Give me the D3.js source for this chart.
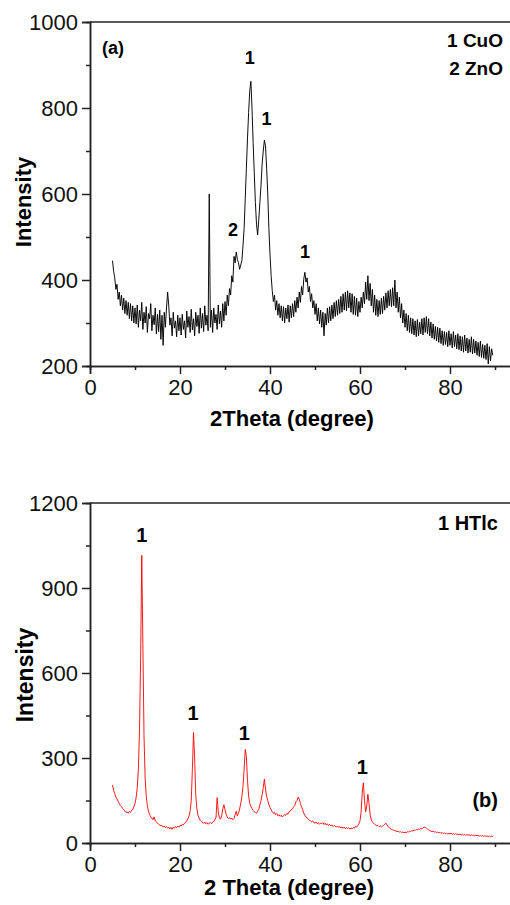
<!DOCTYPE html>
<html>
<head>
<meta charset="utf-8">
<script src="https://cdn.jsdelivr.net/npm/d3@7"></script>
<style>
  body { margin: 0; background: #fff; }
  svg { display: block; font-family: "Liberation Sans", Arial, sans-serif; }
  .axis path, .axis line { stroke: #222; stroke-width: 1.5; }
  .axis text { font-size: 22px; fill: #111; }
</style>
</head>
<body>
<div id="chart"></div>
<script>
// 2theta grid, 0.25 degree steps from 5 to 89.5
var twoTheta = d3.range(5, 89.51, 0.25);

// panel (a) CuO / ZnO
var intensityA = [
  445, 420, 405, 378, 390, 355, 372, 340, 365, 330, 358, 322, 352, 318, 348, 310, 345, 305, 340, 300,
  335, 298, 342, 290, 330, 305, 348, 285, 325, 300, 338, 278, 322, 310, 345, 282, 318, 296, 335, 275,
  320, 280, 330, 262, 318, 248, 325, 290, 335, 372, 340, 295, 312, 270, 325, 288, 305, 268, 318, 282,
  312, 272, 320, 285, 305, 265, 328, 290, 315, 278, 332, 284, 310, 270, 325, 292, 318, 276, 335, 288,
  322, 280, 340, 295, 318, 282, 600, 290, 330, 278, 335, 300, 320, 285, 342, 298, 328, 290, 345, 305,
  350, 318, 365, 340, 380, 365, 410, 395, 455, 440, 465, 448, 440, 425, 435, 445, 480, 520, 590, 660,
  730, 790, 840, 862, 800, 720, 650, 580, 530, 505, 540, 580, 620, 670, 700, 725, 712, 660, 600, 520,
  460, 410, 375, 350, 365, 330, 352, 318, 345, 312, 340, 305, 338, 300, 335, 310, 342, 302, 340, 312,
  345, 315, 352, 325, 360, 335, 372, 348, 385, 365, 402, 418, 395, 405, 372, 385, 350, 368, 335, 352,
  320, 345, 305, 335, 298, 330, 290, 325, 270, 322, 295, 335, 300, 338, 305, 342, 310, 348, 315, 352,
  318, 355, 322, 362, 325, 368, 330, 372, 328, 375, 335, 370, 325, 368, 320, 362, 318, 358, 315, 350,
  325, 360, 335, 372, 345, 395, 355, 410, 352, 392, 340, 378, 325, 365, 318, 355, 315, 352, 320, 358,
  322, 362, 330, 370, 335, 375, 340, 378, 338, 382, 340, 400, 335, 372, 325, 360, 312, 345, 300, 330,
  290, 322, 282, 318, 278, 312, 275, 310, 272, 305, 268, 308, 270, 302, 275, 310, 272, 312, 278, 315,
  275, 310, 270, 302, 265, 298, 262, 292, 258, 290, 255, 288, 252, 282, 248, 280, 250, 278, 245, 282,
  248, 275, 242, 280, 245, 272, 240, 275, 238, 270, 235, 268, 232, 272, 235, 265, 230, 262, 232, 268,
  228, 262, 230, 258, 225, 255, 222, 258, 220, 250, 218, 248, 215, 252, 205, 245, 212, 240, 225
];

// panel (b) HTlc
var intensityB = [
  205, 185, 175, 162, 155, 148, 140, 132, 128, 122, 118, 112, 108, 110, 105, 112, 108, 115, 118, 128,
  140, 160, 195, 260, 400, 650, 1015, 700, 380, 230, 165, 130, 112, 100, 92, 88, 82, 92, 78, 75,
  70, 66, 64, 60, 62, 56, 60, 54, 58, 52, 56, 50, 55, 48, 56, 52, 58, 54, 60, 56,
  62, 60, 66, 64, 70, 72, 78, 85, 95, 112, 150, 260, 390, 300, 170, 120, 98, 88, 80, 76,
  72, 70, 74, 68, 72, 66, 70, 72, 68, 74, 76, 82, 90, 160, 110, 88, 84, 95, 120, 135,
  118, 100, 92, 86, 90, 84, 88, 82, 86, 100, 112, 96, 105, 120, 140, 165, 200, 260, 330, 305,
  220, 165, 140, 128, 122, 115, 110, 108, 105, 112, 118, 135, 150, 170, 195, 225, 190, 165, 150, 135,
  125, 118, 110, 105, 108, 100, 104, 96, 100, 94, 98, 92, 96, 100, 98, 104, 102, 110, 112, 118,
  120, 128, 132, 145, 150, 162, 155, 140, 128, 118, 105, 98, 92, 88, 85, 80, 78, 75, 78, 72,
  70, 74, 68, 72, 66, 70, 68, 72, 65, 70, 64, 68, 62, 66, 60, 64, 58, 62, 60, 56,
  60, 55, 58, 53, 57, 52, 56, 50, 55, 51, 54, 49, 53, 50, 55, 52, 58, 56, 62, 68,
  78, 110, 180, 212, 150, 110, 130, 172, 140, 100, 82, 75, 70, 66, 64, 60, 62, 58, 60, 57,
  60, 62, 66, 70, 64, 58, 54, 50, 48, 46, 45, 44, 42, 40, 42, 38, 40, 37, 39, 36,
  38, 36, 40, 38, 42, 40, 44, 42, 46, 44, 48, 46, 50, 48, 52, 50, 54, 56, 55, 52,
  50, 46, 44, 42, 40, 42, 38, 40, 36, 39, 35, 38, 34, 37, 33, 36, 32, 35, 31, 34,
  32, 35, 31, 34, 30, 33, 30, 32, 29, 32, 28, 31, 28, 30, 27, 30, 27, 29, 26, 29,
  26, 28, 25, 28, 25, 27, 24, 27, 24, 26, 23, 26, 23, 25, 22, 25, 22, 24, 23
];

var xTicks = [0, 20, 40, 60, 80];
var xMinor = [10, 30, 50, 70, 90];
var yTicksA = [200, 400, 600, 800, 1000];
var yMinorA = [300, 500, 700, 900];
var yTicksB = [0, 300, 600, 900, 1200];
var yMinorB = [150, 450, 750, 1050];

// peak markers: [2theta, label centre y in px, text]
var peaksA = [[35.5, 58, "1"], [39.2, 119, "1"], [31.8, 230, "2"], [47.8, 252, "1"]];
var peaksB = [[11.5, 535, "1"], [22.9, 713, "1"], [34.3, 733, "1"], [60.5, 767, "1"]];

var svg = d3.select("#chart").append("svg")
    .attr("width", 510)
    .attr("height", 905);

function drawPanel(opts) {
    var x = d3.scaleLinear().domain([0, 100]).range([90, 540]);
    var y = d3.scaleLinear().domain(opts.yDomain).range(opts.yRange);
    var g = svg.append("g");

    // top frame line
    g.append("line")
        .attr("x1", 90).attr("x2", 510)
        .attr("y1", opts.yRange[1]).attr("y2", opts.yRange[1])
        .attr("stroke", "#222").attr("stroke-width", 1.5);

    var line = d3.line()
        .x(function(d, i) { return x(twoTheta[i]) })
        .y(function(d) { return y(d) });

    g.append("path")
        .datum(opts.values)
        .attr("d", line)
        .attr("fill", "none")
        .attr("stroke", opts.color)
        .attr("stroke-width", opts.width)
        .attr("stroke-linejoin", "round");

    g.append("g").attr("class", "axis")
        .attr("transform", "translate(0," + opts.yRange[0] + ")")
        .call(d3.axisBottom(x).tickValues(xMinor).tickSize(4).tickFormat(""));
    g.append("g").attr("class", "axis")
        .attr("transform", "translate(0," + opts.yRange[0] + ")")
        .call(d3.axisBottom(x).tickValues(xTicks).tickSize(8).tickPadding(5).tickFormat(d3.format("d")));

    g.append("g").attr("class", "axis")
        .attr("transform", "translate(90,0)")
        .call(d3.axisLeft(y).tickValues(opts.yMinor).tickSize(4).tickFormat(""));
    g.append("g").attr("class", "axis")
        .attr("transform", "translate(90,0)")
        .call(d3.axisLeft(y).tickValues(opts.yTicks).tickSize(8).tickPadding(4).tickFormat(d3.format("d")));

    g.append("text")
        .attr("x", opts.xTitle[0]).attr("y", opts.xTitle[1])
        .attr("text-anchor", "middle")
        .attr("font-weight", "bold").attr("font-size", 22)
        .text(opts.xLabel);

    g.append("text")
        .attr("transform", "translate(" + opts.yTitle[0] + "," + opts.yTitle[1] + ") rotate(-90)")
        .attr("text-anchor", "middle")
        .attr("font-weight", "bold").attr("font-size", opts.yTitleSize)
        .text("Intensity");

    g.selectAll(".peak")
        .data(opts.peaks)
        .enter()
        .append("text")
        .attr("x", function(d) { return x(d[0]) })
        .attr("y", function(d) { return d[1] + opts.peakSize * 0.36 })
        .attr("text-anchor", "middle")
        .attr("font-weight", "bold").attr("font-size", opts.peakSize)
        .text(function(d) { return d[2] });

    opts.notes.forEach(function(n) {
        g.append("text")
            .attr("x", n.x).attr("y", n.y)
            .attr("text-anchor", n.anchor)
            .attr("font-weight", "bold").attr("font-size", n.size)
            .text(n.text);
    });
}

drawPanel({
    values: intensityA, color: "#000", width: 0.95,
    yDomain: [200, 1000], yRange: [366, 22],
    yTicks: yTicksA, yMinor: yMinorA,
    xLabel: "2Theta (degree)", xTitle: [292, 426],
    yTitle: [31, 202], yTitleSize: 22,
    peaks: peaksA, peakSize: 18,
    notes: [
        {text: "(a)", x: 102, y: 54, anchor: "start", size: 18},
        {text: "1 CuO", x: 503, y: 47, anchor: "end", size: 19},
        {text: "2 ZnO", x: 503, y: 75, anchor: "end", size: 19}
    ]
});

drawPanel({
    values: intensityB, color: "#ff0000", width: 0.9,
    yDomain: [0, 1200], yRange: [843, 503],
    yTicks: yTicksB, yMinor: yMinorB,
    xLabel: "2 Theta (degree)", xTitle: [289, 895],
    yTitle: [33, 675], yTitleSize: 23,
    peaks: peaksB, peakSize: 20,
    notes: [
        {text: "1 HTlc", x: 498, y: 530, anchor: "end", size: 20},
        {text: "(b)", x: 498, y: 807, anchor: "end", size: 20}
    ]
});
</script>
</body>
</html>
